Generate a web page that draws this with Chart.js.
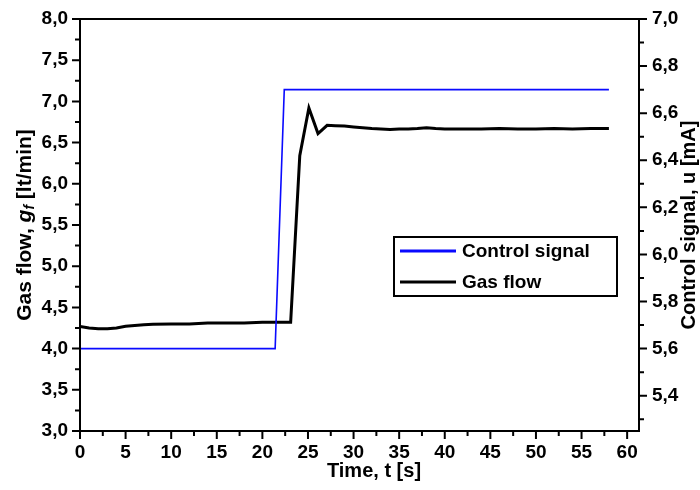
<!DOCTYPE html>
<html>
<head>
<meta charset="utf-8">
<title>Gas flow and control signal</title>
<script src="https://cdn.jsdelivr.net/npm/chart.js@4.4.1/dist/chart.umd.min.js"></script>
<style>
  body { margin: 0; background: #fff; }
  canvas { display: block; }
</style>
</head>
<body>
<canvas id="flowChart" width="700" height="490"></canvas>
<script>
// Gas flow measurement [lt/min], left axis
const gasTime = [0, 1, 2, 3, 4, 5, 6, 7, 8, 10, 12, 14, 16, 18, 20, 22, 23.1,
  24.1, 25.1, 26.1, 27.1, 28, 29, 30, 31, 32, 33, 34, 35, 36, 37, 38, 39, 40,
  42, 44, 46, 48, 50, 52, 54, 56, 58];
const gasFlow = [4.27, 4.25, 4.24, 4.24, 4.25, 4.27, 4.28, 4.29, 4.295, 4.30, 4.30, 4.31, 4.31, 4.31, 4.32, 4.32, 4.32,
  6.34, 6.92, 6.61, 6.71, 6.705, 6.70, 6.69, 6.68, 6.67, 6.665, 6.66, 6.665, 6.665, 6.67, 6.68, 6.67, 6.665,
  6.665, 6.665, 6.67, 6.665, 6.665, 6.67, 6.665, 6.67, 6.67];

// Control signal step [mA], right axis
const ctrlTime = [0, 21.4, 22.4, 58];
const ctrlSignal = [5.6, 5.6, 6.7, 6.7];

// axis ticks (labelled)
const xTicks = [0, 5, 10, 15, 20, 25, 30, 35, 40, 45, 50, 55, 60];
const leftTicks = [3.0, 3.5, 4.0, 4.5, 5.0, 5.5, 6.0, 6.5, 7.0, 7.5, 8.0];
const rightTicks = [5.4, 5.6, 5.8, 6.0, 6.2, 6.4, 6.6, 6.8, 7.0];

const FONT = "Liberation Sans, Arial, sans-serif";
Chart.defaults.font.family = FONT;
Chart.defaults.color = "#000";

const toPoints = (xs, ys) => xs.map((x, i) => ({ x: x, y: ys[i] }));
const comma = (v) => v.toFixed(1).replace(".", ",");

// minor ticks halfway between labelled ones
function minorTicks(list, extraBelow) {
  const out = [];
  for (let i = 0; i < list.length - 1; i++) out.push((list[i] + list[i + 1]) / 2);
  if (extraBelow) out.push(list[0] - (list[1] - list[0]) / 2);
  return out;
}

// frame + tick marks drawn on top of the data
const frameAndTicks = {
  id: "frameAndTicks",
  afterDatasetsDraw(chart) {
    const { ctx, chartArea: a, scales } = chart;
    ctx.save();
    ctx.strokeStyle = "#000";
    ctx.lineWidth = 2;
    ctx.strokeRect(a.left, a.top, a.right - a.left, a.bottom - a.top);

    ctx.beginPath();
    xTicks.forEach(v => { const p = scales.x.getPixelForValue(v); ctx.moveTo(p, a.bottom); ctx.lineTo(p, a.bottom + 8); });
    minorTicks(xTicks).forEach(v => {
      const p = scales.x.getPixelForValue(v); ctx.moveTo(p, a.bottom); ctx.lineTo(p, a.bottom + 5);
    });
    leftTicks.forEach(v => { const p = scales.y.getPixelForValue(v); ctx.moveTo(a.left, p); ctx.lineTo(a.left - 8, p); });
    minorTicks(leftTicks).forEach(v => { const p = scales.y.getPixelForValue(v); ctx.moveTo(a.left, p); ctx.lineTo(a.left - 5, p); });
    rightTicks.forEach(v => { const p = scales.y1.getPixelForValue(v); ctx.moveTo(a.right, p); ctx.lineTo(a.right + 8, p); });
    minorTicks(rightTicks, true).forEach(v => { const p = scales.y1.getPixelForValue(v); ctx.moveTo(a.right, p); ctx.lineTo(a.right + 5, p); });
    ctx.stroke();
    ctx.restore();
  }
};

// axis titles, the left one has an italic g with subscript f
const axisTitles = {
  id: "axisTitles",
  afterDraw(chart) {
    const { ctx, chartArea: a } = chart;
    const midY = (a.top + a.bottom) / 2;
    ctx.save();
    ctx.fillStyle = "#000";
    ctx.textBaseline = "middle";

    ctx.font = "bold 20px " + FONT;
    ctx.textAlign = "center";
    ctx.fillText("Time, t [s]", 374, 471);

    // left title
    const parts = [
      { t: "Gas flow, ", f: "bold 21px " + FONT, dy: 0 },
      { t: "g", f: "italic bold 21px " + FONT, dy: 0 },
      { t: "f", f: "italic bold 14px " + FONT, dy: 5 },
      { t: " [lt/min]", f: "bold 21px " + FONT, dy: 0 }
    ];
    let total = 0;
    parts.forEach(p => { ctx.font = p.f; p.w = ctx.measureText(p.t).width; total += p.w; });
    ctx.save();
    ctx.translate(25, midY);
    ctx.rotate(-Math.PI / 2);
    ctx.textAlign = "left";
    let x = -total / 2;
    parts.forEach(p => { ctx.font = p.f; ctx.fillText(p.t, x, p.dy); x += p.w; });
    ctx.restore();

    // right title
    ctx.save();
    ctx.translate(689, midY);
    ctx.rotate(-Math.PI / 2);
    ctx.font = "bold 20px " + FONT;
    ctx.textAlign = "center";
    ctx.fillText("Control signal, u [mA]", 0, 0);
    ctx.restore();
    ctx.restore();
  }
};

// boxed legend inside the plot
const boxLegend = {
  id: "boxLegend",
  afterDraw(chart) {
    const { ctx } = chart;
    const bx = 394, by = 237, bw = 223, bh = 59;
    ctx.save();
    ctx.fillStyle = "#fff";
    ctx.fillRect(bx, by, bw, bh);
    ctx.strokeStyle = "#000";
    ctx.lineWidth = 2;
    ctx.strokeRect(bx, by, bw, bh);
    ctx.font = "bold 19px " + FONT;
    ctx.textBaseline = "middle";
    ctx.textAlign = "left";
    chart.data.datasets.forEach((ds, i) => {
      const y = 251 + i * 31;
      ctx.strokeStyle = ds.borderColor;
      ctx.lineWidth = 3;
      ctx.beginPath();
      ctx.moveTo(400, y);
      ctx.lineTo(456, y);
      ctx.stroke();
      ctx.fillStyle = "#000";
      ctx.fillText(ds.label, 462, y + 1);
    });
    ctx.restore();
  }
};

new Chart(document.getElementById("flowChart"), {
  type: "scatter",
  data: {
    datasets: [
      {
        label: "Control signal",
        data: toPoints(ctrlTime, ctrlSignal),
        yAxisID: "y1",
        showLine: true,
        borderColor: "#0a0aff",
        borderWidth: 1.6,
        pointRadius: 0,
        tension: 0
      },
      {
        label: "Gas flow",
        data: toPoints(gasTime, gasFlow),
        yAxisID: "y",
        showLine: true,
        borderColor: "#000",
        borderWidth: 3,
        borderJoinStyle: "miter",
        pointRadius: 0,
        tension: 0
      }
    ]
  },
  options: {
    responsive: false,
    animation: false,
    layout: { padding: { top: 19, left: 0, right: 0, bottom: 0 } },
    plugins: {
      legend: { display: false },
      tooltip: { enabled: false }
    },
    scales: {
      x: {
        type: "linear",
        min: 0,
        max: 61.3,
        grid: { display: false },
        border: { display: false },
        afterBuildTicks: (s) => { s.ticks = xTicks.map(v => ({ value: v })); },
        afterFit: (s) => { s.height = 59; s.paddingLeft = 0; s.paddingRight = 0; },
        ticks: {
          autoSkip: false,
          maxRotation: 0,
          padding: 2,
          font: { size: 19, weight: "bold" },
          callback: (v) => String(v)
        }
      },
      y: {
        position: "left",
        min: 3,
        max: 8,
        grid: { display: false },
        border: { display: false },
        afterBuildTicks: (s) => { s.ticks = leftTicks.map(v => ({ value: v })); },
        afterFit: (s) => { s.width = 80; s.paddingTop = 0; s.paddingBottom = 0; },
        ticks: {
          padding: 4,
          font: { size: 19, weight: "bold" },
          callback: (v) => comma(v)
        }
      },
      y1: {
        position: "right",
        min: 5.25,
        max: 7.0,
        grid: { display: false },
        border: { display: false },
        afterBuildTicks: (s) => { s.ticks = rightTicks.map(v => ({ value: v })); },
        afterFit: (s) => { s.width = 61; s.paddingTop = 0; s.paddingBottom = 0; },
        ticks: {
          padding: 5,
          font: { size: 19, weight: "bold" },
          callback: (v) => comma(v)
        }
      }
    }
  },
  plugins: [frameAndTicks, axisTitles, boxLegend]
});
</script>
</body>
</html>
